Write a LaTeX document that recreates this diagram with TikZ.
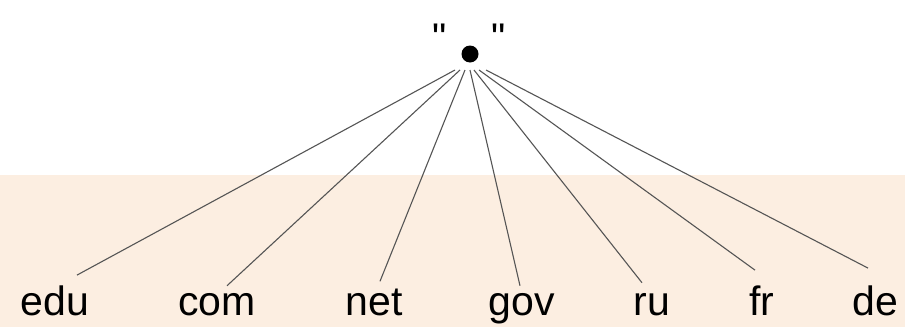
\documentclass[tikz,border=0pt]{standalone}
\usepackage{fontspec}
\setmainfont{Liberation Sans}
\newfontfamily\qfont{Liberation Sans}[Ligatures=TeXOff]
\definecolor{peach}{HTML}{FCEEE1}
\definecolor{edge}{HTML}{555555}
\begin{document}
\begin{tikzpicture}[x=1pt,y=-1pt,
  lbl/.style={inner sep=0pt, anchor=base, font=\fontsize{41}{41}\selectfont},
  conn/.style={draw=edge, line width=1.1pt}]
\useasboundingbox (0,0) rectangle (905,327);
\fill[white] (0,0) rectangle (905,175);
\fill[peach] (0,175) rectangle (905,327);
\node[circle, fill=black, inner sep=0pt, minimum size=17pt] (root) at (470,54) {};
\node[inner sep=0pt, font=\qfont\fontsize{40}{40}\selectfont, anchor=base] (q) at (469,51) {"\hspace{44pt}"};
\node[lbl] (edu) at (55,315) {edu};
\node[lbl] (com) at (217,315) {com};
\node[lbl] (net) at (374,315) {net};
\node[lbl] (gov) at (522,315) {gov};
\node[lbl] (ru) at (652,315) {ru};
\node[lbl] (fr) at (762,315) {fr};
\node[lbl] (de) at (875,315) {de};
\draw[conn] ([shift={(-15,16)}]root.center) -- ([shift={(22,-10)}]edu.north);
\draw[conn] ([shift={(-10,16)}]root.center) -- ([shift={(10,-7)}]com.north);
\draw[conn] ([shift={(-5,16)}]root.center) -- ([shift={(6,-7)}]net.north);
\draw[conn] ([shift={(0,16)}]root.center) -- ([shift={(-2,-7)}]gov.north);
\draw[conn] ([shift={(4,16)}]root.center) -- ([shift={(-10,-10)}]ru.north);
\draw[conn] ([shift={(9,16)}]root.center) -- ([shift={(-7,-15)}]fr.north);
\draw[conn] ([shift={(16,16)}]root.center) -- ([shift={(-7,-17)}]de.north);
\end{tikzpicture}
\end{document}
